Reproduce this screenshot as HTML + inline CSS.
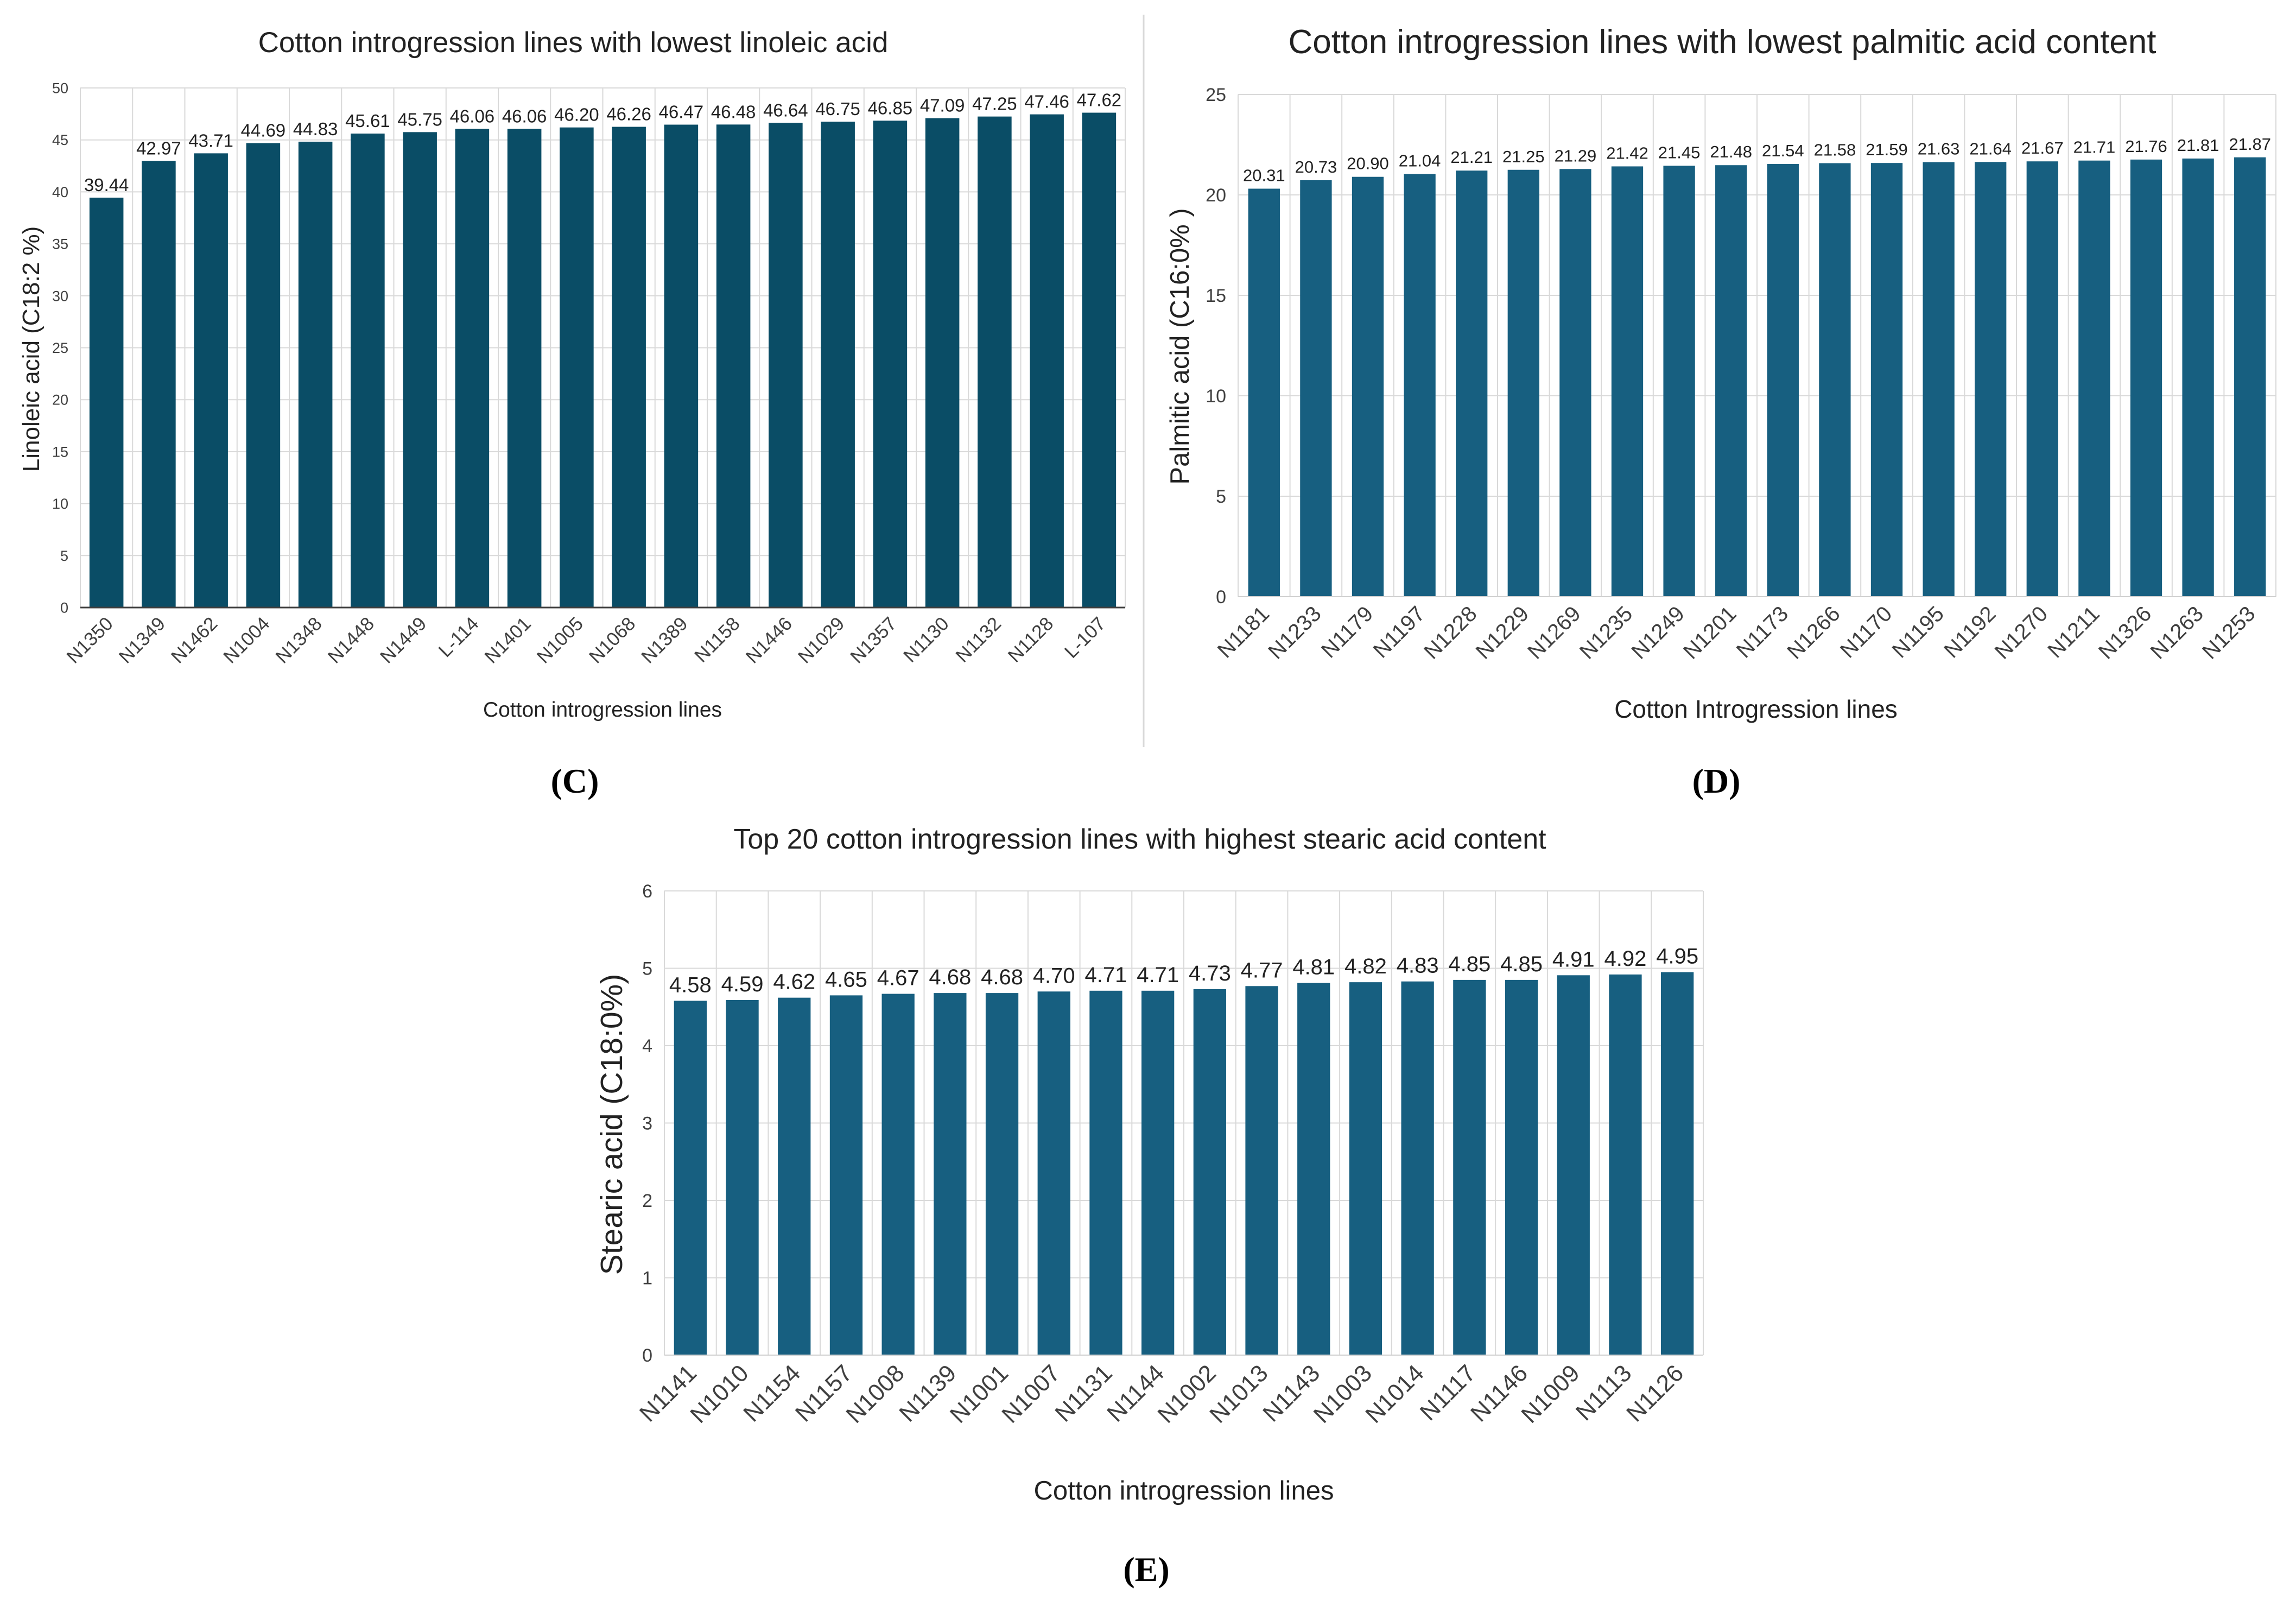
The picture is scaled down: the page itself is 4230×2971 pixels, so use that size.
<!DOCTYPE html>
<html><head><meta charset="utf-8">
<style>
html,body{margin:0;padding:0;background:#fff;}
svg{display:block;}
.narrow{font-family:"Liberation Sans Narrow","Liberation Sans",sans-serif;}
.sans{font-family:"Liberation Sans",sans-serif;}
.serif{font-family:"Liberation Serif",serif;font-weight:bold;}
</style></head>
<body>
<svg id="fig" xmlns="http://www.w3.org/2000/svg" width="4230" height="2971" viewBox="0 0 4230 2971">
<line x1="2107" y1="27" x2="2107" y2="1376" stroke="#d9d9d9" stroke-width="3"/>
</svg>
<script>
// Panel C data
const cCategories = ["N1350","N1349","N1462","N1004","N1348","N1448","N1449","L-114","N1401","N1005","N1068","N1389","N1158","N1446","N1029","N1357","N1130","N1132","N1128","L-107"];
const cValues = [39.44,42.97,43.71,44.69,44.83,45.61,45.75,46.06,46.06,46.20,46.26,46.47,46.48,46.64,46.75,46.85,47.09,47.25,47.46,47.62];
const cTicks = [0,5,10,15,20,25,30,35,40,45,50];
// Panel D data
const dCategories = ["N1181","N1233","N1179","N1197","N1228","N1229","N1269","N1235","N1249","N1201","N1173","N1266","N1170","N1195","N1192","N1270","N1211","N1326","N1263","N1253"];
const dValues = [20.31,20.73,20.90,21.04,21.21,21.25,21.29,21.42,21.45,21.48,21.54,21.58,21.59,21.63,21.64,21.67,21.71,21.76,21.81,21.87];
const dTicks = [0,5,10,15,20,25];
// Panel E data
const eCategories = ["N1141","N1010","N1154","N1157","N1008","N1139","N1001","N1007","N1131","N1144","N1002","N1013","N1143","N1003","N1014","N1117","N1146","N1009","N1113","N1126"];
const eValues = [4.58,4.59,4.62,4.65,4.67,4.68,4.68,4.70,4.71,4.71,4.73,4.77,4.81,4.82,4.83,4.85,4.85,4.91,4.92,4.95];
const eTicks = [0,1,2,3,4,5,6];

const NS = "http://www.w3.org/2000/svg";
const svg = document.getElementById('fig');
function mk(tag, attrs, parent){
  const el = document.createElementNS(NS, tag);
  for (const k in attrs) el.setAttribute(k, attrs[k]);
  (parent||svg).appendChild(el);
  return el;
}
function drawChart(o, cats, vals, ticks){
  const g = mk('g', {});
  
  
  const maxT = ticks[ticks.length-1];
  const y = v => o.bottom - (v / maxT) * (o.bottom - o.top);
  const slot = (o.right - o.left) / cats.length;
  const xc = i => o.left + slot * (i + 0.5);
  ticks.forEach(t => {
    const ln = mk('line', {x1:o.left, x2:o.right, y1:y(t), y2:y(t), stroke:'#d9d9d9', 'stroke-width':2}, g);
    
    
    const tl = mk('text', {x:o.left-22, y:y(t)+o.tickSize*0.35, 'text-anchor':'end', 'font-size':o.tickSize, fill:'#404040', class:'narrow'}, g);
    tl.textContent = t;
    
    
  });
  for (let i = 0; i <= cats.length; i++){
    const xx = o.left + slot * i;
    const vl = mk('line', {x1:xx, x2:xx, y1:o.top, y2:o.bottom, stroke:'#d9d9d9', 'stroke-width':2}, g);
    
    
  }
  const bw = slot * o.barFrac;
  cats.forEach((c, i) => {
    const v = vals[i];
    const r = mk('rect', {x:xc(i)-bw/2, y:y(v), width:bw, height:o.bottom-y(v), fill:o.color}, g);
    
    
    const vl = mk('text', {x:xc(i), y:y(v)-o.labelGap, 'text-anchor':'middle', 'font-size':o.valSize, fill:'#222', class:'narrow'}, g);
    vl.textContent = v.toFixed(2);
    
    
    const cx = xc(i) + o.catDx, cy = o.bottom + o.catDy;
    const cl = mk('text', {x:cx, y:cy, 'text-anchor':'end', 'font-size':o.catSize, fill:'#404040', class:'sans', transform:'rotate(-45 '+cx+' '+cy+')'}, g);
    cl.textContent = c;
    
    
  });
  const ax = mk('line', {x1:o.left, x2:o.right, y1:o.bottom, y2:o.bottom, stroke:o.axisColor, 'stroke-width':o.axisW}, g);
  
  
  const t = mk('text', {x:o.titleX, y:o.titleY, 'text-anchor':'middle', 'font-size':o.titleSize, fill:'#222', class:'narrow'}, g);
  t.textContent = o.title;
  
  
  const yt = mk('text', {x:o.yTitleX, y:o.yTitleY, 'text-anchor':'middle', 'font-size':o.yTitleSize, fill:'#222', class:'sans', transform:'rotate(-90 '+o.yTitleX+' '+o.yTitleY+')'}, g);
  yt.textContent = o.yTitle;
  
  
  const xt = mk('text', {x:o.xTitleX, y:o.xTitleY, 'text-anchor':'middle', 'font-size':o.xTitleSize, fill:'#222', class:'narrow'}, g);
  xt.textContent = o.xTitle;
  
  
  const pl = mk('text', {x:o.panelX, y:o.panelY, 'text-anchor':'middle', 'font-size':64, fill:'#000', class:'serif'}, g);
  pl.textContent = o.panel;
  
  
}

drawChart({name:'chart-linoleic', left:148, right:2073, top:162, bottom:1119, color:'#0a4d66', barFrac:0.65,
  tickSize:27, valSize:33, labelGap:12, catSize:35, catDx:14, catDy:32, axisColor:'#404040', axisW:3,
  title:'Cotton introgression lines with lowest linoleic acid', titleX:1056, titleY:96, titleSize:53,
  yTitle:'Linoleic acid (C18:2 %)', yTitleX:72, yTitleY:643, yTitleSize:44,
  xTitle:'Cotton introgression lines', xTitleX:1110, xTitleY:1320, xTitleSize:39,
  panel:'(C)', panelX:1059, panelY:1460}, cCategories, cValues, cTicks);

drawChart({name:'chart-palmitic', left:2281, right:4193, top:174, bottom:1099, color:'#175f80', barFrac:0.61,
  tickSize:34, valSize:31, labelGap:14, catSize:40, catDx:12, catDy:34, axisColor:'#d0d0d0', axisW:2,
  title:'Cotton introgression lines with lowest palmitic acid content', titleX:3173, titleY:98, titleSize:62,
  yTitle:'Palmitic acid (C16:0% )', yTitleX:2190, yTitleY:638, yTitleSize:49,
  xTitle:'Cotton Introgression lines', xTitleX:3235, xTitleY:1322, xTitleSize:46,
  panel:'(D)', panelX:3162, panelY:1460}, dCategories, dValues, dTicks);

drawChart({name:'chart-stearic', left:1224, right:3138, top:1641, bottom:2496, color:'#175f80', barFrac:0.63,
  tickSize:34, valSize:40, labelGap:16, catSize:44, catDx:14, catDy:36, axisColor:'#d0d0d0', axisW:2,
  title:'Top 20 cotton introgression lines with highest stearic acid content', titleX:2100, titleY:1563, titleSize:52,
  yTitle:'Stearic acid (C18:0%)', yTitleX:1146, yTitleY:2071, yTitleSize:57,
  xTitle:'Cotton introgression lines', xTitleX:2181, xTitleY:2762, xTitleSize:49,
  panel:'(E)', panelX:2112, panelY:2912}, eCategories, eValues, eTicks);
</script>
</body></html>
